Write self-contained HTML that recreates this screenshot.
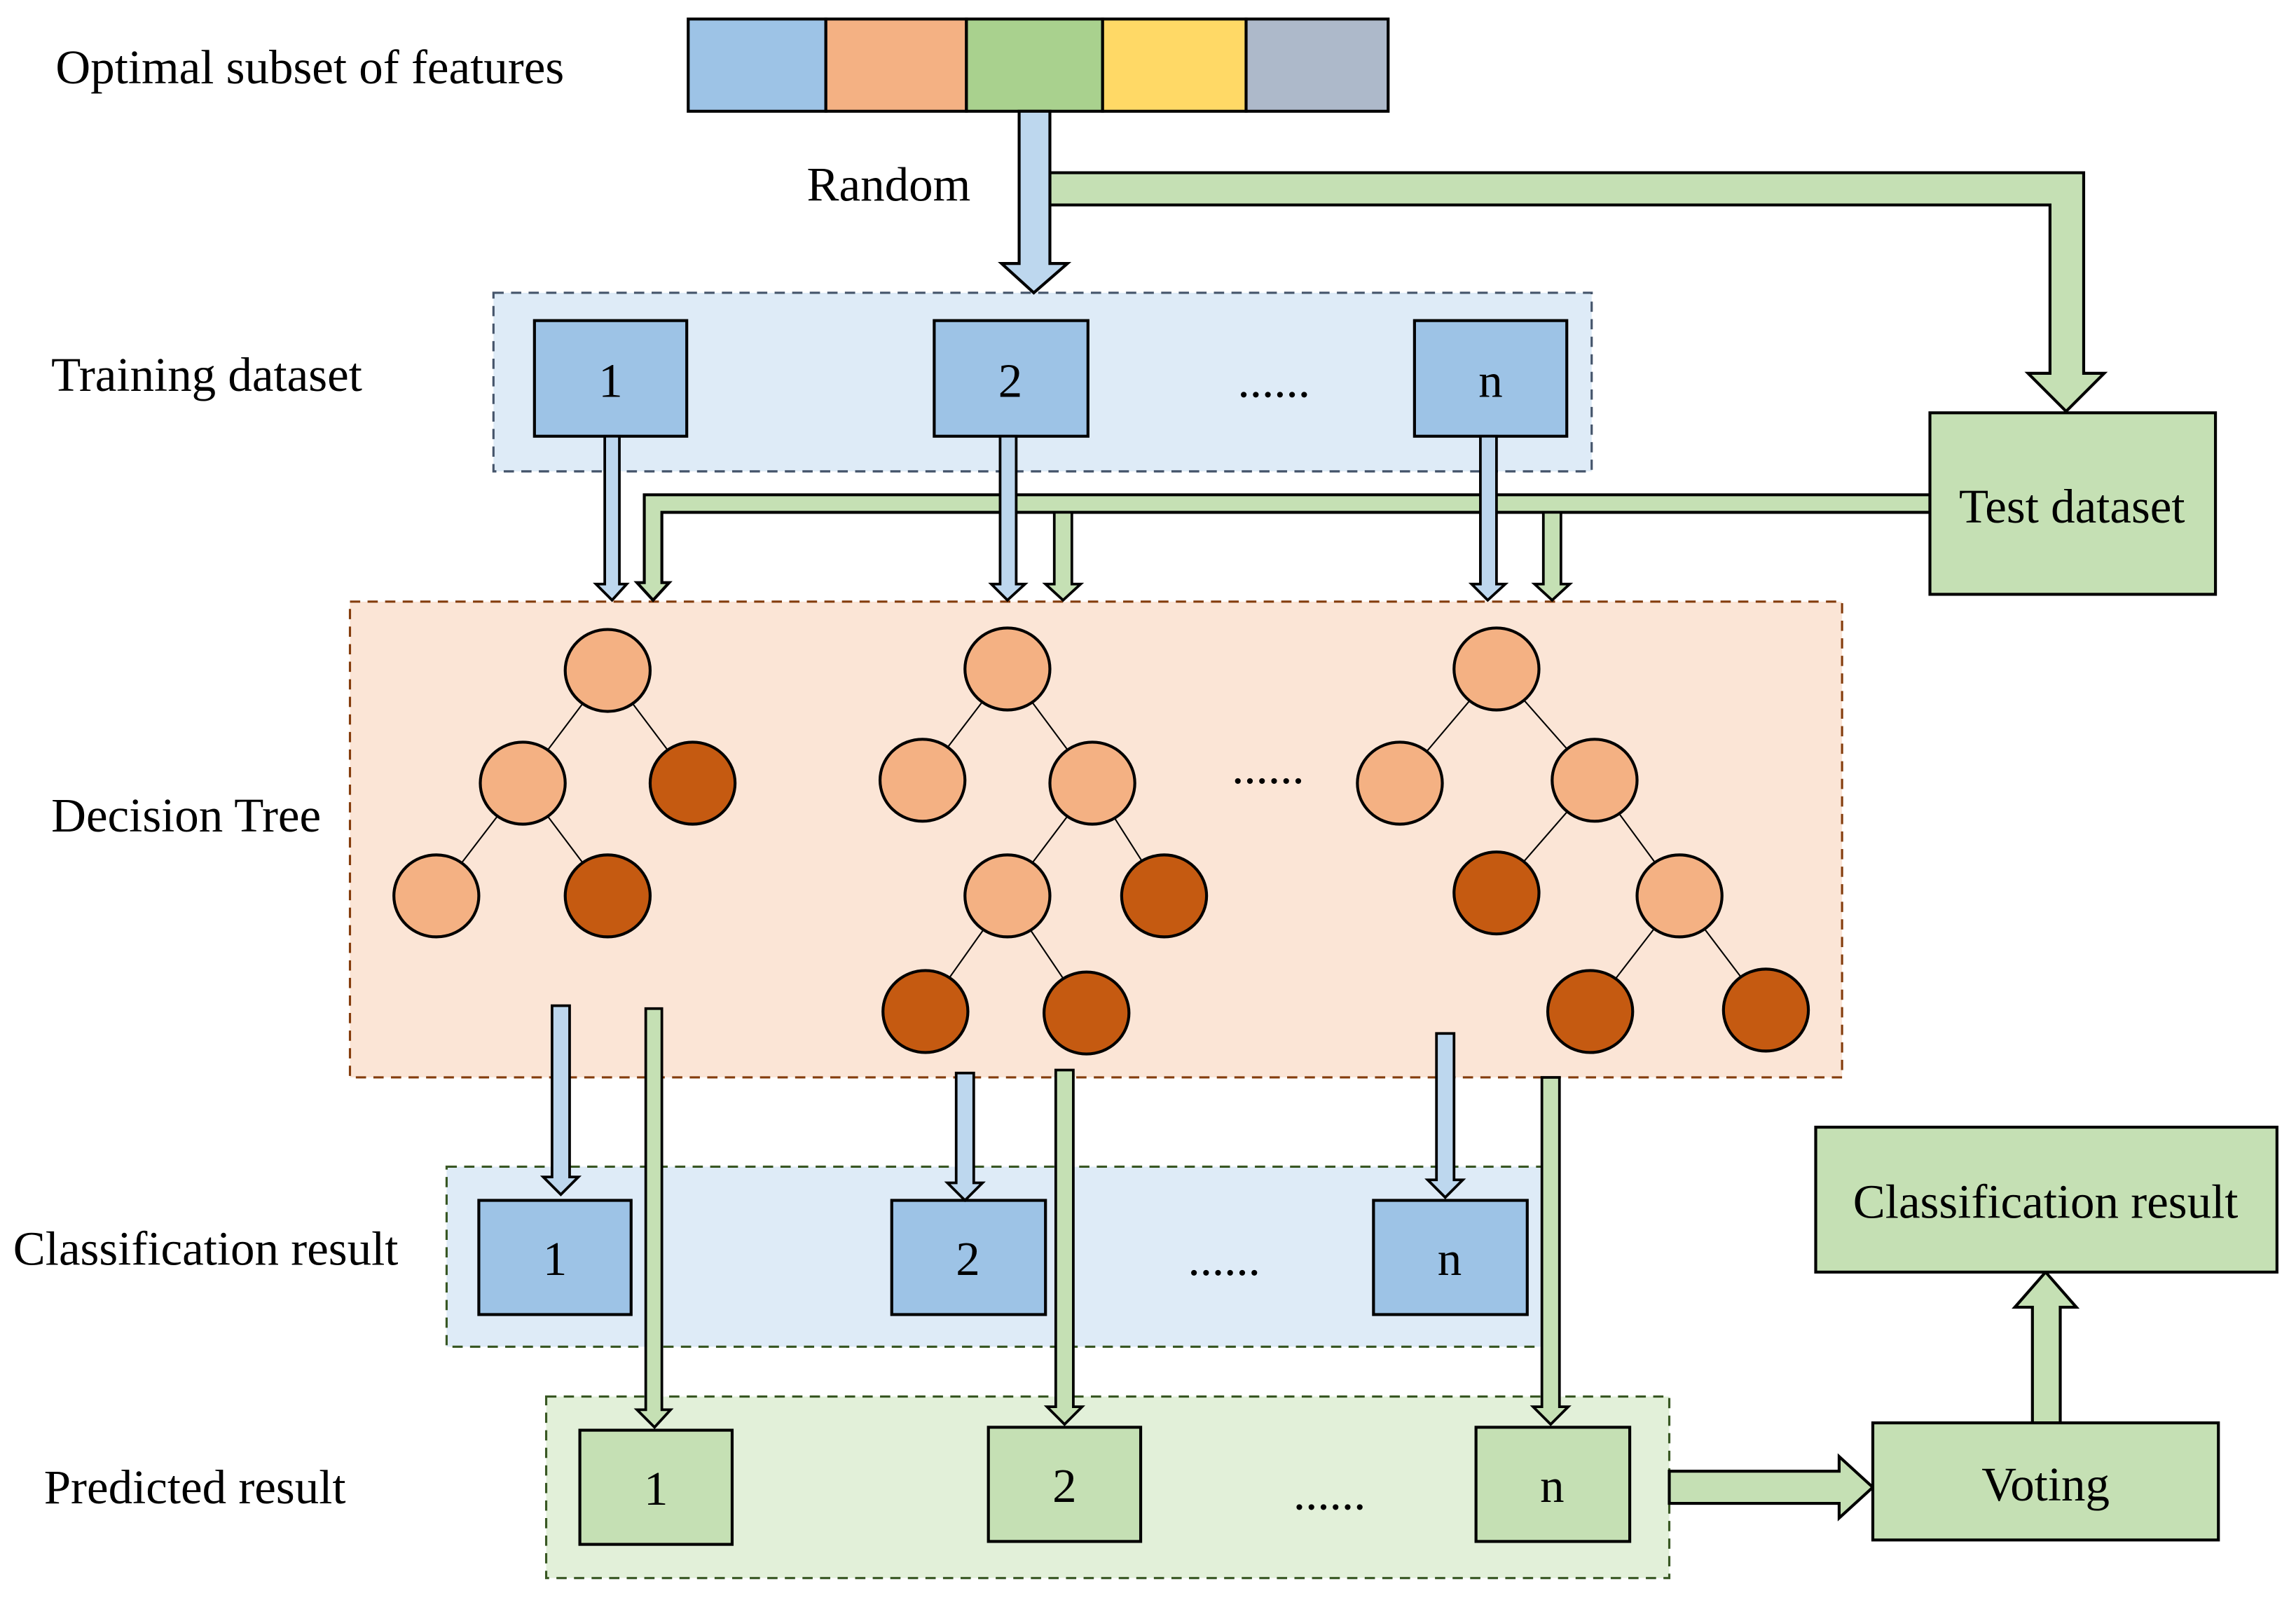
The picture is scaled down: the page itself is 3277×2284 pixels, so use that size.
<!DOCTYPE html>
<html><head><meta charset="utf-8"><style>
html,body{margin:0;padding:0;background:#fff;}
svg{display:block;}
text{font-family:"Liberation Serif",serif;fill:#000;}
</style></head><body>
<svg width="3277" height="2284" viewBox="0 0 1568 1093" preserveAspectRatio="none" xmlns="http://www.w3.org/2000/svg">
<rect width="1568" height="1093" fill="#fff"/>
<!-- feature bar -->
<g stroke="#000" stroke-width="2">
<rect x="470" y="13" width="94" height="63" fill="#9dc3e6"/>
<rect x="564" y="13" width="96" height="63" fill="#f4b183"/>
<rect x="660" y="13" width="93" height="63" fill="#a9d18e"/>
<rect x="753" y="13" width="98" height="63" fill="#ffd966"/>
<rect x="851" y="13" width="97" height="63" fill="#adb9ca"/>
</g>
<text x="38" y="57" font-size="33">Optimal subset of features</text>
<text x="551" y="137" font-size="33">Random</text>

<!-- containers -->
<rect x="337" y="200" width="750" height="122" fill="#deebf7" stroke="#44546a" stroke-width="1.5" stroke-dasharray="7,5"/>
<rect x="239" y="411" width="1019" height="325" fill="#fbe5d6" stroke="#843c0c" stroke-width="1.5" stroke-dasharray="7,5"/>
<rect x="305" y="797" width="748" height="123" fill="#deebf7" stroke="#385723" stroke-width="1.5" stroke-dasharray="7,5"/>
<rect x="373" y="954" width="767" height="124" fill="#e2f0d9" stroke="#385723" stroke-width="1.5" stroke-dasharray="7,5"/>

<!-- big arrows -->
<g stroke="#000" stroke-width="2" stroke-linejoin="miter">
<polygon fill="#c5e0b4" points="717,118 1423,118 1423,255 1437,255 1411,281 1385,255 1400,255 1400,140 717,140"/>
<polygon fill="#bdd7ee" points="696,76 717,76 717,180 729,180 706,200 684,180 696,180"/>
<polygon fill="#c5e0b4" points="1318,338 440,338 440,398 435,398 446,410 457,398 452,398 452,350 1318,350"/>
</g>

<!-- training boxes -->
<g stroke="#000" stroke-width="2" fill="#9dc3e6">
<rect x="365" y="219" width="104" height="79"/>
<rect x="638" y="219" width="105" height="79"/>
<rect x="966" y="219" width="104" height="79"/>
</g>
<g font-size="33" text-anchor="middle">
<text x="417" y="271">1</text><text x="690" y="271">2</text><text x="1018" y="271">n</text>
<text x="870" y="271">......</text>
</g>
<rect x="1318" y="282" width="195" height="124" fill="#c5e0b4" stroke="#000" stroke-width="2"/>
<text x="1415" y="357" font-size="33" text-anchor="middle">Test dataset</text>

<!-- small arrows top -->
<g stroke="#000" stroke-width="1.8">
<polygon fill="#bdd7ee" points="413,298 423,298 423,399 428,399 418,410 407,399 413,399"/>
<polygon fill="#bdd7ee" points="683,298 694,298 694,399 700,399 688,410 677,399 683,399"/>
<polygon fill="#c5e0b4" points="720,350 732,350 732,399 738,399 726,410 714,399 720,399"/>
<polygon fill="#bdd7ee" points="1011,298 1022,298 1022,399 1028,399 1016,410 1005,399 1011,399"/>
<polygon fill="#c5e0b4" points="1054,350 1066,350 1066,399 1072,399 1060,410 1048,399 1054,399"/>
</g>

<!-- trees -->
<g stroke="#000" stroke-width="1">
<line x1="415" y1="458" x2="357" y2="535"/><line x1="415" y1="458" x2="473" y2="535"/>
<line x1="357" y1="535" x2="298" y2="612"/><line x1="357" y1="535" x2="415" y2="612"/>
<line x1="688" y1="457" x2="630" y2="533"/><line x1="688" y1="457" x2="746" y2="535"/>
<line x1="746" y1="535" x2="688" y2="612"/><line x1="746" y1="535" x2="795" y2="612"/>
<line x1="688" y1="612" x2="632" y2="691"/><line x1="688" y1="612" x2="742" y2="692"/>
<line x1="1022" y1="457" x2="956" y2="535"/><line x1="1022" y1="457" x2="1089" y2="533"/>
<line x1="1089" y1="533" x2="1022" y2="610"/><line x1="1089" y1="533" x2="1147" y2="612"/>
<line x1="1147" y1="612" x2="1086" y2="691"/><line x1="1147" y1="612" x2="1206" y2="690"/>
</g>
<g stroke="#000" stroke-width="2">
<g fill="#f4b183">
<ellipse cx="415" cy="458" rx="29" ry="28"/><ellipse cx="357" cy="535" rx="29" ry="28"/><ellipse cx="298" cy="612" rx="29" ry="28"/>
<ellipse cx="688" cy="457" rx="29" ry="28"/><ellipse cx="630" cy="533" rx="29" ry="28"/><ellipse cx="746" cy="535" rx="29" ry="28"/><ellipse cx="688" cy="612" rx="29" ry="28"/>
<ellipse cx="1022" cy="457" rx="29" ry="28"/><ellipse cx="956" cy="535" rx="29" ry="28"/><ellipse cx="1089" cy="533" rx="29" ry="28"/><ellipse cx="1147" cy="612" rx="29" ry="28"/>
</g>
<g fill="#c55a11">
<ellipse cx="473" cy="535" rx="29" ry="28"/><ellipse cx="415" cy="612" rx="29" ry="28"/>
<ellipse cx="795" cy="612" rx="29" ry="28"/><ellipse cx="632" cy="691" rx="29" ry="28"/><ellipse cx="742" cy="692" rx="29" ry="28"/>
<ellipse cx="1022" cy="610" rx="29" ry="28"/><ellipse cx="1086" cy="691" rx="29" ry="28"/><ellipse cx="1206" cy="690" rx="29" ry="28"/>
</g>
</g>
<text x="866" y="535" font-size="33" text-anchor="middle">......</text>

<!-- classification boxes -->
<g stroke="#000" stroke-width="2" fill="#9dc3e6">
<rect x="327" y="820" width="104" height="78"/>
<rect x="609" y="820" width="105" height="78"/>
<rect x="938" y="820" width="105" height="78"/>
</g>
<!-- predicted boxes -->
<g stroke="#000" stroke-width="2" fill="#c5e0b4">
<rect x="396" y="977" width="104" height="78"/>
<rect x="675" y="975" width="104" height="78"/>
<rect x="1008" y="975" width="105" height="78"/>
</g>
<g font-size="33" text-anchor="middle">
<text x="379" y="871">1</text><text x="661" y="871">2</text><text x="990" y="871">n</text>
<text x="836" y="871">......</text>
<text x="448" y="1028">1</text><text x="727" y="1026">2</text><text x="1060" y="1026">n</text>
<text x="908" y="1031">......</text>
</g>

<!-- lower arrows -->
<g stroke="#000" stroke-width="1.8">
<polygon fill="#bdd7ee" points="377,687 389,687 389,804 395,804 383,816 371,804 377,804"/>
<polygon fill="#c5e0b4" points="441,689 452,689 452,963 458,963 447,975 435,963 441,963"/>
<polygon fill="#bdd7ee" points="653,733 665,733 665,808 671,808 659,820 647,808 653,808"/>
<polygon fill="#c5e0b4" points="721,731 733,731 733,961 739,961 727,973 715,961 721,961"/>
<polygon fill="#bdd7ee" points="981,706 993,706 993,806 999,806 987,818 975,806 981,806"/>
<polygon fill="#c5e0b4" points="1053,736 1065,736 1065,961 1071,961 1059,973 1047,961 1053,961"/>
</g>
<g stroke="#000" stroke-width="2">
<polygon fill="#c5e0b4" points="1140,1005 1256,1005 1256,995 1279,1016 1256,1037 1256,1027 1140,1027"/>
<polygon fill="#c5e0b4" points="1388,972 1407,972 1407,893 1418,893 1397,869 1376,893 1388,893"/>
<rect x="1279" y="972" width="236" height="80" fill="#c5e0b4"/>
<rect x="1240" y="770" width="315" height="99" fill="#c5e0b4"/>
</g>
<text x="1397" y="1025" font-size="33" text-anchor="middle">Voting</text>
<text x="1397" y="832" font-size="33" text-anchor="middle">Classification result</text>

<g font-size="33">
<text x="35" y="267">Training dataset</text>
<text x="35" y="568">Decision Tree</text>
<text x="9" y="864">Classification result</text>
<text x="30" y="1027">Predicted result</text>
</g>
</svg>
</body></html>
